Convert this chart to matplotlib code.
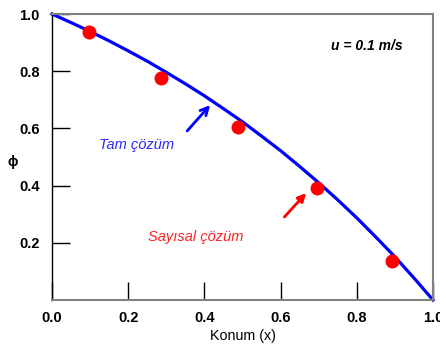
import matplotlib
matplotlib.use("Agg")
import matplotlib.pyplot as plt

plt.rcParams['font.family'] = ['Liberation Sans', 'DejaVu Sans']

# Exact solution curve
x_exact = [0.0, 0.05, 0.1, 0.15, 0.2, 0.25, 0.3, 0.35, 0.4, 0.45, 0.5,
           0.55, 0.6, 0.65, 0.7, 0.75, 0.8, 0.85, 0.9, 0.95, 1.0]
phi_exact = [1.0, 0.970, 0.939, 0.906, 0.871, 0.835, 0.796, 0.756, 0.714, 0.669, 0.623,
             0.573, 0.522, 0.467, 0.410, 0.350, 0.287, 0.220, 0.151, 0.077, 0.0]

# Numerical solution points
x_num = [0.097, 0.287, 0.489, 0.695, 0.892]
phi_num = [0.937, 0.776, 0.605, 0.392, 0.136]

xticks = [0.0, 0.2, 0.4, 0.6, 0.8, 1.0]
xticklabels = ["0.0", "0.2", "0.4", "0.6", "0.8", "1.0"]
yticks = [0.2, 0.4, 0.6, 0.8, 1.0]
yticklabels = ["0.2", "0.4", "0.6", "0.8", "1.0"]

fig = plt.figure(figsize=(4.4, 3.45), dpi=100)
ax = fig.add_axes([52/440, 1 - 300/345, 381/440, 286/345])

ax.plot(x_exact, phi_exact, color='#0000ff', lw=2.3, zorder=2, clip_on=False)
ax.scatter(x_num, phi_num, s=82, color='#ff0000', zorder=3, clip_on=False)

ax.set_xlim(0, 1)
ax.set_ylim(0, 1)
ax.set_xticks(xticks)
ax.set_xticklabels(xticklabels, fontweight='bold', fontsize=10.5)
ax.set_yticks(yticks)
ax.set_yticklabels(yticklabels, fontweight='bold', fontsize=10.5)
ax.tick_params(axis='y', direction='in', length=13, width=1, color='black', pad=9)
ax.tick_params(axis='x', direction='in', length=13, width=1, color='black', pad=8)

for s in ['top', 'right', 'bottom']:
    ax.spines[s].set_color('#808080')
    ax.spines[s].set_linewidth(1.5)
ax.spines['left'].set_color('black')
ax.spines['left'].set_linewidth(1)

ax.set_xlabel("Konum (x)", fontsize=10.3, labelpad=3)
fig.text(13/440, 1 - 162/345, "ϕ", fontsize=10, fontweight='bold', ha='center', va='center')

ax.text(0.827, 0.888, "u = 0.1 m/s", transform=ax.transAxes, fontsize=10,
        fontweight='bold', fontstyle='italic', ha='center', va='center')

ax.text(0.223, 0.543, "Tam çözüm", transform=ax.transAxes, fontsize=10.5,
        fontstyle='italic', color='#2a2aff', ha='center', va='center')
ax.annotate("", xy=(0.42, 0.689), xytext=(0.35, 0.584),
            arrowprops=dict(arrowstyle='->', color='#0000ff', lw=2, mutation_scale=14))

ax.text(0.376, 0.22, "Sayısal çözüm", transform=ax.transAxes, fontsize=10.5,
        fontstyle='italic', color='#ff2020', ha='center', va='center')
ax.annotate("", xy=(0.672, 0.381), xytext=(0.605, 0.283),
            arrowprops=dict(arrowstyle='-|>', color='#ff0000', lw=2, mutation_scale=12))

fig.savefig("out.png", dpi=100)
